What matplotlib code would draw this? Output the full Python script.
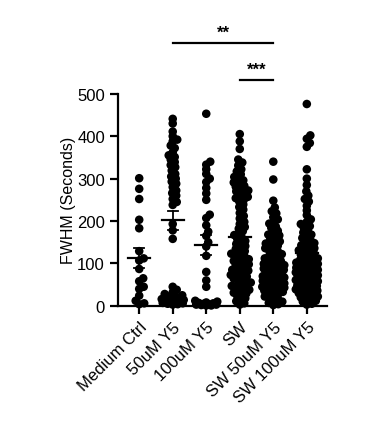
import numpy as np
import matplotlib
matplotlib.use("Agg")
import matplotlib.pyplot as plt

plt.rcParams["font.family"] = ["Liberation Sans", "DejaVu Sans"]

# ---------------- Data (FWHM in seconds) ----------------

groups = ["Medium Ctrl", "50uM Y5", "100uM Y5", "SW", "SW 50uM Y5", "SW 100uM Y5"]

medium_ctrl = [301, 276, 252, 203, 183, 129, 112, 107, 87, 65, 58, 45, 40, 24, 12, 6, 4]

y5_50 = [441, 430, 411, 400, 392, 388, 378, 372, 362, 355, 351, 345, 339, 332, 327,
         319, 311, 305, 300, 293, 288, 280, 272, 266, 260, 252, 245, 238, 193, 178, 158,
         45, 38, 32, 28, 25, 22, 20, 18, 16, 14, 12, 10, 9, 8, 7, 6, 5, 4, 3]

y5_100 = [453, 340, 333, 322, 311, 300, 292, 278, 265, 250, 215, 207, 190, 175, 165,
          150, 140, 118, 80, 60, 45, 12, 10, 8, 7, 6, 5, 4, 3, 3, 2, 1, 1]

sw = [405, 388, 370, 345, 338, 331, 322, 317, 310, 304, 300, 296, 291, 288, 283, 281,
      277, 272, 270, 265, 262, 257, 254, 250, 246, 239, 233, 227, 219, 212, 206,
      198, 193, 186, 182, 176, 170, 167, 161, 158, 153, 150,
      146, 141, 139, 134, 129, 127, 123, 120, 118, 113, 110, 106, 104, 101,
      98, 96, 91, 89, 85, 83, 80, 78, 73, 71, 69, 64, 62, 59, 55, 53, 50,
      47, 45, 40, 38, 36, 31, 29, 26, 23, 18, 15, 11, 6, 3]

sw_y5_50 = [340, 298, 248, 232, 223, 218, 209, 204,
            198, 194, 187, 184, 177, 174, 168, 166, 160, 158, 152,
            149, 147, 142, 141, 136, 135, 130, 129, 124, 122, 118, 117, 112, 111, 106, 105, 100,
            99, 97, 96, 93, 92, 89, 88, 85, 84, 81, 79, 78, 75, 73, 71, 70, 67, 65, 63,
            62, 59, 57, 56, 53, 51,
            49, 48, 45, 43, 42, 39, 37, 36, 33, 31, 28, 26, 22, 19, 17, 13, 10, 7, 4, 2]

sw_y5_100 = [476, 402, 394, 384, 375, 322, 300, 285, 270, 260, 252,
             246, 236, 225, 214, 204,
             198, 193, 188, 184, 178, 173, 168, 165, 160, 156, 152,
             148, 145, 143, 139, 136, 133, 131, 127, 124, 121, 119, 115, 112, 109, 106, 103,
             108, 102, 99, 97, 96, 94, 93, 90, 88, 87, 85, 84, 81, 79, 78, 76, 75, 72, 70,
             69, 67, 66, 63, 61, 60, 58, 57, 54, 52, 51,
             48, 47, 45, 42, 41, 39, 36, 35, 33, 30, 28, 26, 22, 20, 18, 14, 12, 10, 5, 3]

data = [medium_ctrl, y5_50, y5_100, sw, sw_y5_50, sw_y5_100]

# significance brackets: (group a, group b, y, label)
brackets = [(1, 4, 620, "**"), (3, 4, 533, "***")]


# ---------------- Helpers ----------------

def swarm_offsets(values, ax, min_dist=4.6, step=0.5, max_half=11.0):
    """Beeswarm in pixel space with limited width; overlap allowed when crowded."""
    to_px = ax.transData.transform
    y_px = to_px(np.column_stack([np.zeros(len(values)), values]))[:, 1]
    px_per_x = to_px((1, 0))[0] - to_px((0, 0))[0]
    order = np.argsort(values)
    cands = [0.0]
    k = 1
    while k * step <= max_half:
        cands += [k * step, -k * step]
        k += 1
    placed = []
    offsets = np.zeros(len(values))
    for i in order:
        y = y_px[i]
        best, best_d = 0.0, -1.0
        for c in cands:
            d = min((np.hypot(c - px, y - py) for px, py in placed), default=1e9)
            if d >= min_dist:
                best = c
                break
            if d > best_d:
                best, best_d = c, d
        placed.append((best, y))
        offsets[i] = best / px_per_x
    return offsets


# ---------------- Plot ----------------

fig = plt.figure(figsize=(3.69, 4.31), dpi=100)
ax = fig.add_axes([0.320, 0.288, 0.566, 0.492])
ax.set_xlim(-0.63, 5.6)
ax.set_ylim(0, 500)

for i, vals in enumerate(data):
    vals = np.array(vals, dtype=float)
    xs = i + swarm_offsets(vals, ax)
    ax.scatter(xs, vals, s=38, color="black", edgecolors="none", zorder=2, clip_on=False)
    m = vals.mean()
    sem = vals.std(ddof=1) / np.sqrt(len(vals))
    ax.plot([i - 0.33, i + 0.33], [m, m], color="black", lw=1.6, zorder=3)
    ax.plot([i, i], [m - sem, m + sem], color="black", lw=1.3, zorder=3)
    for e in (m - sem, m + sem):
        ax.plot([i - 0.15, i + 0.15], [e, e], color="black", lw=1.3, zorder=3)

for a, b, y, lab in brackets:
    ax.plot([a, b], [y, y], color="black", lw=1.6, clip_on=False)
    ax.text((a + b) / 2, y + 8, lab, ha="center", va="bottom", fontsize=12,
            fontweight="bold")

ax.spines["top"].set_visible(False)
ax.spines["right"].set_visible(False)
ax.spines["left"].set_linewidth(1.6)
ax.spines["bottom"].set_linewidth(1.6)
ax.set_yticks(range(0, 501, 100))
ax.set_xticks(range(len(groups)))
ax.set_xticklabels(groups, rotation=45, ha="right", rotation_mode="anchor")
ax.tick_params(axis="both", length=6, width=1.6, labelsize=12)
ax.set_ylabel("FWHM (Seconds)", fontsize=11.5, labelpad=1)

plt.savefig("out.png", dpi=100)
